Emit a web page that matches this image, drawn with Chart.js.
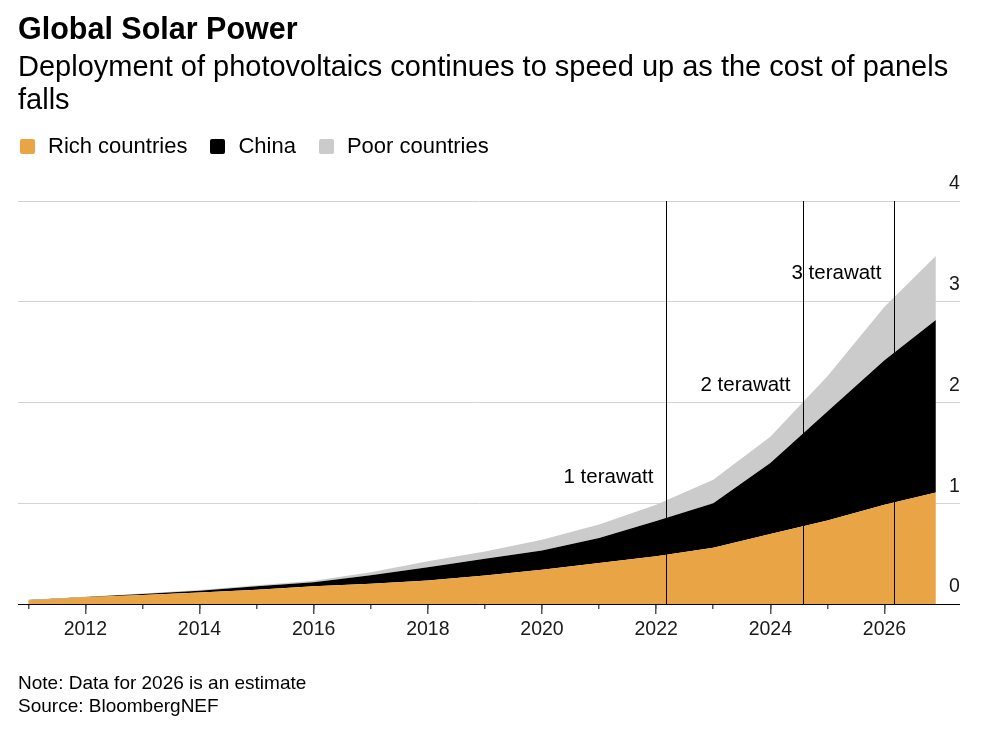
<!DOCTYPE html>
<html>
<head>
<meta charset="utf-8">
<script src="https://cdn.jsdelivr.net/npm/chart.js@4.4.1/dist/chart.umd.min.js"></script>
<style>
html,body{margin:0;padding:0;background:#fff;}
body{width:1000px;height:729px;position:relative;overflow:hidden;font-family:"Liberation Sans",Arial,Helvetica,sans-serif;color:#000;}
#title{position:absolute;left:18px;top:10px;font-size:30.5px;line-height:36px;font-weight:bold;white-space:nowrap;}
#subtitle{position:absolute;left:18px;top:50px;width:960px;font-size:29px;line-height:33px;}
#legend{position:absolute;left:20px;top:134px;height:24px;display:flex;align-items:center;font-size:22px;white-space:nowrap;}
.item{display:flex;align-items:center;margin-right:23px;}
.sw{width:15px;height:15px;border-radius:2px;margin-right:13px;}
#footer{position:absolute;left:18px;top:672px;font-size:19px;line-height:22.6px;}
#wrap{position:absolute;left:0;top:0;width:1000px;height:729px;}
</style>
</head>
<body>
<div id="wrap"><canvas id="c" width="1000" height="729" style="width:1000px;height:729px;"></canvas></div>
<div id="title">Global Solar Power</div>
<div id="subtitle">Deployment of photovoltaics continues to speed up as the cost of panels falls</div>
<div id="legend"></div>
<div id="footer">Note: Data for 2026 is an estimate<br>Source: BloombergNEF</div>
<script>
// ---- data (terawatts of installed solar capacity) ----
const dates = [2011, 2012, 2013, 2014, 2015, 2016, 2017, 2018, 2019, 2020, 2021, 2022, 2023, 2024, 2025, 2026, 2026.9];
const richCountries = [0.038, 0.066, 0.089, 0.115, 0.142, 0.175, 0.201, 0.234, 0.282, 0.340, 0.408, 0.474, 0.558, 0.694, 0.830, 0.985, 1.107];
const china = [0.002, 0.004, 0.010, 0.017, 0.033, 0.041, 0.084, 0.131, 0.168, 0.190, 0.247, 0.351, 0.442, 0.706, 1.080, 1.435, 1.713];
const poorCountries = [0.001, 0.002, 0.006, 0.007, 0.010, 0.016, 0.030, 0.060, 0.070, 0.108, 0.135, 0.160, 0.233, 0.260, 0.350, 0.530, 0.635];
const seriesNames = ['Rich countries', 'China', 'Poor countries'];
const yTicks = [0, 1, 2, 3, 4];
const milestoneYears = [2022.17, 2024.58, 2026.17];
const milestoneLevels = [1, 2, 3];
const milestoneLabels = ['1 terawatt', '2 terawatt', '3 terawatt'];

// ---- styles ----
const COLORS = ['#e9a446', '#000000', '#cbcbcb'];
const FONT = '"Liberation Sans", Arial, Helvetica, sans-serif';
const X_MIN = 2010.82, X_MAX = 2026.99;
const labelLift = [26, 17, 28];

// HTML legend
const legendEl = document.getElementById('legend');
seriesNames.forEach((n, i) => {
  const it = document.createElement('div');
  it.className = 'item';
  const sw = document.createElement('div');
  sw.className = 'sw';
  sw.style.background = COLORS[i];
  const tx = document.createElement('span');
  tx.textContent = n;
  it.appendChild(sw); it.appendChild(tx);
  legendEl.appendChild(it);
});

const toPoints = arr => dates.map((d, i) => ({x: d, y: arr[i]}));
const seriesValues = [richCountries, china, poorCountries];

const milestonePlugin = {
  id: 'milestones',
  afterDatasetsDraw(chart) {
    const {ctx, chartArea, scales} = chart;
    const xs = scales.x, ys = scales.y;
    ctx.save();
    milestoneYears.forEach((yr, i) => {
      const px = Math.round(xs.getPixelForValue(yr)) + 0.5;
      ctx.strokeStyle = '#000';
      ctx.lineWidth = 1;
      ctx.beginPath();
      ctx.moveTo(px, chartArea.top);
      ctx.lineTo(px, chartArea.bottom);
      ctx.stroke();
      ctx.font = '20.5px ' + FONT;
      ctx.fillStyle = '#000';
      ctx.textAlign = 'right';
      ctx.textBaseline = 'middle';
      ctx.fillText(milestoneLabels[i], px - 13, ys.getPixelForValue(milestoneLevels[i]) - labelLift[i]);
    });
    ctx.restore();
  }
};

new Chart(document.getElementById('c'), {
  type: 'line',
  data: {
    datasets: seriesNames.map((name, i) => ({
      label: name,
      data: toPoints(seriesValues[i]),
      xAxisID: 'x',
      yAxisID: 'y',
      backgroundColor: COLORS[i],
      borderColor: COLORS[i],
      borderWidth: 0,
      pointRadius: 0,
      tension: 0,
      fill: i === 0 ? 'origin' : '-1'
    }))
  },
  options: {
    responsive: false,
    animation: false,
    layout: {padding: {left: 18, right: 40, top: 201, bottom: 85}},
    plugins: {legend: {display: false}, tooltip: {enabled: false}, title: {display: false}},
    scales: {
      x: {
        type: 'linear', axis: 'x', position: 'bottom', weight: 1,
        min: X_MIN, max: X_MAX,
        ticks: {
          stepSize: 2, includeBounds: false, autoSkip: false, maxRotation: 0, minRotation: 0,
          padding: 4, color: '#1a1a1a', font: {size: 19.5, family: FONT},
          callback: v => String(v)
        },
        grid: {drawOnChartArea: false, drawTicks: true, tickLength: 10, color: '#555', lineWidth: 1.5},
        border: {display: true, color: '#000', width: 1},
        afterFit: s => { s.height = 40; }
      },
      x2: {
        type: 'linear', axis: 'x', position: 'bottom', weight: 0,
        min: X_MIN, max: X_MAX,
        ticks: {display: false, stepSize: 1, includeBounds: false, autoSkip: false},
        grid: {drawOnChartArea: false, drawTicks: true, tickLength: 5, color: '#555', lineWidth: 1.5},
        border: {display: false},
        afterFit: s => { s.height = 0; }
      },
      y: {
        type: 'linear', position: 'right', stacked: true,
        min: yTicks[0], max: yTicks[yTicks.length - 1],
        afterBuildTicks: s => { s.ticks = yTicks.map(v => ({value: v})); },
        ticks: {
          stepSize: 1, padding: -11, labelOffset: -17, crossAlign: 'near',
          color: '#1a1a1a', font: {size: 19.5, family: FONT},
          callback: v => String(v)
        },
        grid: {
          color: c => (c.tick && c.tick.value === 0) ? '#000' : '#d3d3d3',
          tickLength: 19, lineWidth: 1, drawTicks: true
        },
        border: {display: false},
        afterFit: s => { s.width = 19; }
      }
    }
  },
  plugins: [milestonePlugin]
});
</script>
</body>
</html>
